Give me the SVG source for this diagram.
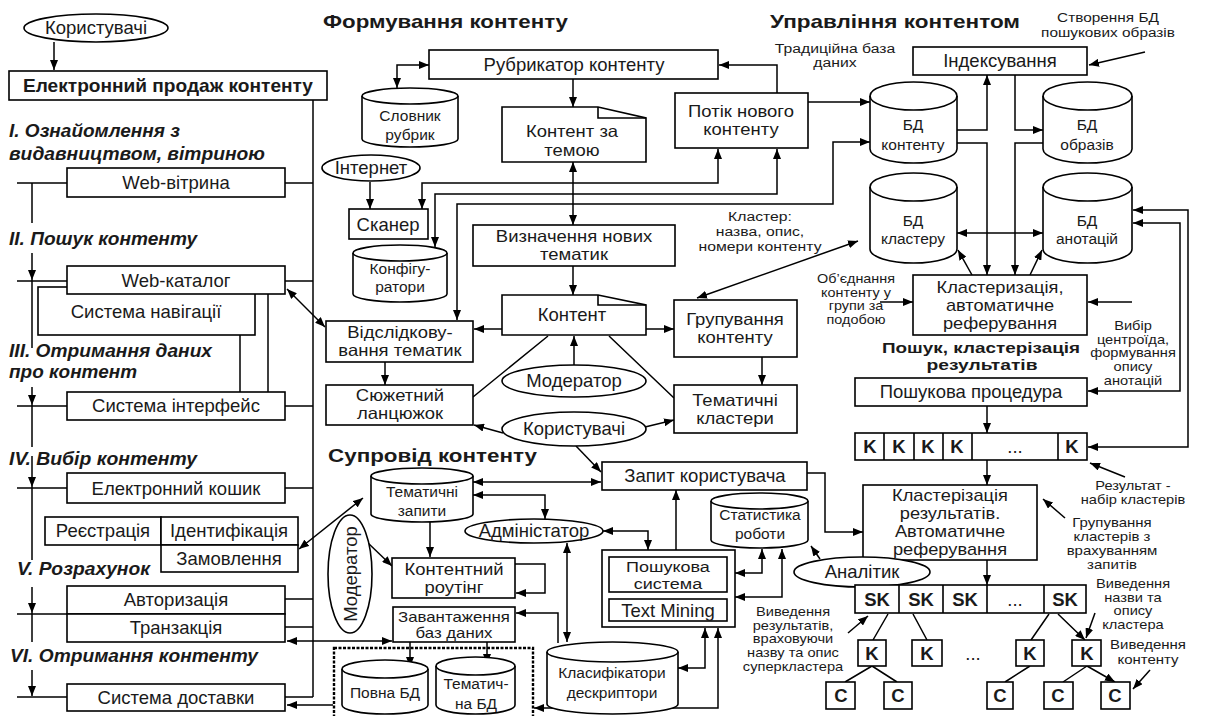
<svg xmlns="http://www.w3.org/2000/svg" width="1205" height="716" viewBox="0 0 1205 716">
<defs>
<marker id="ah" viewBox="0 0 10 10" refX="10" refY="5" markerWidth="10" markerHeight="8" markerUnits="userSpaceOnUse" orient="auto-start-reverse" preserveAspectRatio="none"><path d="M0,0 L10,5 L0,10 Z" fill="#000"/></marker>
</defs>
<style>
.n rect,.n path,.n ellipse{fill:#fff;stroke:#000;stroke-width:1.6}
.n path.f{fill:none}
.c path{fill:none;stroke:#000;stroke-width:1.5}
.e{marker-end:url(#ah)}
.s{marker-start:url(#ah)}
text{font-family:"Liberation Sans",Arial,sans-serif;fill:#1a1a1a}
.t{font-size:18.5px;text-anchor:middle}
.t2{font-size:16.5px;text-anchor:middle}
.t3{font-size:16px;text-anchor:middle}
.sm{font-size:12.3px;text-anchor:middle}
.cy{font-size:15.5px;text-anchor:middle}
.b{font-weight:bold}
.h{font-size:19px;font-weight:bold}
.h2{font-size:15px;font-weight:bold;text-anchor:middle}
.sec{font-size:18px;font-weight:bold;font-style:italic}
</style>
<rect width="1205" height="716" fill="#fff"/>

<!-- Titles -->
<g id="titles">
<text class="h" x="323" y="28" textLength="245" lengthAdjust="spacingAndGlyphs">Формування контенту</text>
<text class="h" x="770" y="28" textLength="250" lengthAdjust="spacingAndGlyphs">Управління контентом</text>
<text class="h" x="328" y="462" textLength="209" lengthAdjust="spacingAndGlyphs">Супровід контенту</text>
<text class="h2" x="981" y="353" textLength="198" lengthAdjust="spacingAndGlyphs">Пошук, кластерізація</text>
<text class="h2" x="982" y="370" textLength="111" lengthAdjust="spacingAndGlyphs">результатів</text>
<text class="sec" x="9" y="137" textLength="171" lengthAdjust="spacingAndGlyphs">I. Ознайомлення з</text>
<text class="sec" x="9" y="160" textLength="256" lengthAdjust="spacingAndGlyphs">видавництвом, вітриною</text>
<text class="sec" x="9" y="245" textLength="188" lengthAdjust="spacingAndGlyphs">II. Пошук контенту</text>
<text class="sec" x="9" y="357" textLength="203" lengthAdjust="spacingAndGlyphs">III. Отримання даних</text>
<text class="sec" x="9" y="378" textLength="128" lengthAdjust="spacingAndGlyphs">про контент</text>
<text class="sec" x="9" y="465" textLength="188" lengthAdjust="spacingAndGlyphs">IV. Вибір контенту</text>
<text class="sec" x="17" y="575" textLength="133" lengthAdjust="spacingAndGlyphs">V. Розрахунок</text>
<text class="sec" x="10" y="662" textLength="248" lengthAdjust="spacingAndGlyphs">VI. Отримання контенту</text>
</g>

<!-- Connectors -->
<g id="connectors" class="c">
<path class="e" d="M54,42 V70"/>
<path d="M313,100 V697"/>
<path d="M17,183 H67 M285,183 H313 M32,183 V223"/>
<path class="e" d="M32,253 V280"/>
<path d="M32,280 V348 M17,281 H67 M285,281 H313"/>
<path class="e" d="M32,387 V405"/>
<path d="M32,405 V447 M17,406 H67 M285,406 H313"/>
<path class="e" d="M32,456 V487"/>
<path d="M32,487 V560 M17,488 H67 M285,488 H313"/>
<path class="e" d="M32,587 V613"/>
<path d="M32,613 V642 M17,614 H67 M285,599 H313 M285,627 H313"/>
<path class="e" d="M32,670 V696"/>
<path d="M17,697 H67 M285,697 H313"/>
<path d="M240,335 V392 M268,294 V392"/>
<path class="s e" d="M287,289 L325,327"/>
<path class="s e" d="M299,549 L363,498"/>
<path class="e" d="M343,519 L392,566"/>
<path class="s e" d="M287,641 H392"/>
<path class="e" d="M333,705 H287"/>

<path class="s e" d="M429,65 H397 V88"/>
<path class="e" d="M573,79 V107"/>
<path class="e" d="M777,93 V65 H719"/>
<path class="e" d="M808,102 H870"/>
<path class="e" d="M370,182 V209"/>
<path class="s e" d="M422,209 V183 H718 V149"/>
<path class="s e" d="M435,247 V194 H777 V149"/>
<path class="s e" d="M870,142 H833 V204 H457 V320"/>
<path class="s e" d="M573,162 V225"/>
<path class="e" d="M573,266 V295"/>
<path class="e" d="M502,329 H474"/>
<path class="e" d="M646,329 H674"/>
<path class="e" d="M762,357 V385"/>
<path d="M548,336 L473,397 M609,336 L674,398"/>
<path class="e" d="M574,365 V336"/>
<path class="e" d="M385,362 V385"/>
<path class="e" d="M503,433 L474,425"/>
<path class="e" d="M645,427 L674,420"/>
<path class="e" d="M576,446 L601,472"/>
<path class="s e" d="M858,241 L697,298"/>

<path class="e" d="M1145,52 L1089,65"/>
<path class="e" d="M957,130 H987 V75"/>
<path class="e" d="M1015,75 V130 H1043"/>
<path class="e" d="M957,143 H987 V275"/>
<path class="e" d="M1043,143 H1015 V275"/>
<path class="s e" d="M957,233 H1043"/>
<path class="e" d="M972,275 L958,250"/>
<path class="e" d="M1030,275 L1042,250"/>
<path class="e" d="M1132,302 H1088"/>
<path class="e" d="M880,302 H913"/>
<path class="s e" d="M1133,223 H1180 V391 H1088"/>
<path class="s e" d="M1133,210 H1188 V447 H1088"/>
<path class="e" d="M987,406 V433"/>
<path class="e" d="M987,460 V485"/>
<path class="e" d="M1125,477 L1090,463"/>
<path class="e" d="M1065,518 L1043,499"/>
<path class="e" d="M987,560 V585"/>
<path class="e" d="M807,473 H825 V532 H863"/>
<path class="e" d="M820,559 L811,546"/>
<path class="e" d="M848,633 L868,616"/>
<path class="e" d="M1095,613 L1086,638"/>
<path class="e" d="M888,614 L873,640 M913,614 L927,640 M1049,614 L1031,640 M1058,614 L1085,640"/>
<path class="e" d="M872,666 L845,682 M872,666 L897,682 M1030,666 L1005,682 M1087,666 L1063,682 M1087,666 L1115,682"/>
<path class="e" d="M1150,670 L1133,689"/>

<path class="s e" d="M473,482 H601"/>
<path class="s e" d="M473,495 H545 V519"/>
<path class="s e" d="M603,531 H648 V550"/>
<path class="e" d="M430,522 V557"/>
<path class="e" d="M515,564 H545 V593 H516"/>
<path class="e" d="M558,643 V613 H516"/>
<path class="s e" d="M567,543 V642"/>
<path class="e" d="M410,642 V667"/>
<path class="e" d="M487,642 V664"/>
<path class="e" d="M676,550 V490"/>
<path class="s e" d="M735,573 H762 V549"/>
<path class="s e" d="M735,597 H782 V549"/>
<path class="s e" d="M678,668 H705 V628"/>
<path class="s e" d="M534,708 H718 V628"/>
</g>

<!-- Labels -->
<g id="labels">
<g transform="matrix(1.28 0 0 1 835 0)"><text class="sm" x="0" y="53">Традиційна база</text><text class="sm" x="0" y="67">даних</text></g>
<g transform="matrix(1.25 0 0 1 1108 0)"><text class="sm" x="0" y="22">Створення БД</text><text class="sm" x="0" y="37">пошукових образів</text></g>
<g transform="matrix(1.28 0 0 1 760 0)"><text class="sm" x="0" y="221">Кластер:</text><text class="sm" x="0" y="236">назва, опис,</text><text class="sm" x="0" y="251">номери контенту</text></g>
<g transform="matrix(1.2 0 0 1 856 0)"><text class="sm" x="0" y="283.5" style="font-size:12px">Об’єднання</text><text class="sm" x="0" y="297" style="font-size:12px">контенту  у</text><text class="sm" x="0" y="310.5" style="font-size:12px">групи за</text><text class="sm" x="0" y="324" style="font-size:12px">подобою</text></g>
<g transform="matrix(1.22 0 0 1 1133 0)"><text class="sm" x="0" y="330" style="font-size:12px">Вибір</text><text class="sm" x="0" y="343.8" style="font-size:12px">центроїда,</text><text class="sm" x="0" y="357.5" style="font-size:12px">формування</text><text class="sm" x="0" y="371.3" style="font-size:12px">опису</text><text class="sm" x="0" y="385" style="font-size:12px">анотацій</text></g>
<g transform="matrix(1.22 0 0 1 1133 0)"><text class="sm" x="0" y="490" style="font-size:12px">Результат -</text><text class="sm" x="0" y="504" style="font-size:12px">набір кластерів</text></g>
<g transform="matrix(1.22 0 0 1 1112 0)"><text class="sm" x="0" y="527">Групування</text><text class="sm" x="0" y="541">кластерів з</text><text class="sm" x="0" y="555">врахуванням</text><text class="sm" x="0" y="569">запитів</text></g>
<g transform="matrix(1.22 0 0 1 1133 0)"><text class="sm" x="0" y="588" style="font-size:12px">Виведення</text><text class="sm" x="0" y="601.7" style="font-size:12px">назви та</text><text class="sm" x="0" y="615.3" style="font-size:12px">опису</text><text class="sm" x="0" y="629" style="font-size:12px">кластера</text></g>
<g transform="matrix(1.22 0 0 1 1148 0)"><text class="sm" x="0" y="649">Виведення</text><text class="sm" x="0" y="664">контенту</text></g>
<g transform="matrix(1.22 0 0 1 793 0)"><text class="sm" x="0" y="616" style="font-size:12px">Виведення</text><text class="sm" x="0" y="629.8" style="font-size:12px">результатів,</text><text class="sm" x="0" y="643.5" style="font-size:12px">враховуючи</text><text class="sm" x="0" y="657.3" style="font-size:12px">назву та опис</text><text class="sm" x="0" y="671" style="font-size:12px">суперкластера</text></g>
</g>

<!-- Left column nodes -->
<g id="users-top" class="n"><ellipse cx="96" cy="28" rx="72" ry="14"/><text class="t" x="96" y="34">Користувачі</text></g>
<g id="e-sale" class="n"><rect x="9" y="71" width="318" height="29"/><text class="t b" x="168" y="92" textLength="290" lengthAdjust="spacingAndGlyphs">Електронний продаж контенту</text></g>
<g id="web-vitryna" class="n"><rect x="67" y="168" width="218" height="29"/><text class="t" x="176" y="189">Web-вітрина</text></g>
<g id="nav" class="n"><rect x="38" y="287" width="217" height="48"/><text class="t" x="146" y="318">Система навігації</text></g>
<g id="web-katalog" class="n"><rect x="67" y="266" width="218" height="28"/><text class="t" x="176" y="287">Web-каталог</text></g>
<g id="interface" class="n"><rect x="67" y="392" width="218" height="28"/><text class="t" x="176" y="412">Система інтерфейс</text></g>
<g id="koshyk" class="n"><rect x="67" y="473" width="218" height="30"/><text class="t" x="176" y="495">Електронний кошик</text></g>
<g id="reg" class="n"><rect x="45" y="517" width="116" height="28"/><text class="t" x="103" y="537">Реєстрація</text></g>
<g id="ident" class="n"><rect x="161" y="517" width="137" height="28"/><text class="t" x="229" y="537">Ідентифікація</text></g>
<g id="order" class="n"><rect x="161" y="545" width="137" height="27"/><text class="t" x="229" y="565">Замовлення</text></g>
<g id="auth" class="n"><rect x="67" y="586" width="218" height="28"/><text class="t" x="176" y="606">Авторизація</text></g>
<g id="trans" class="n"><rect x="67" y="614" width="218" height="28"/><text class="t" x="176" y="634">Транзакція</text></g>
<g id="delivery" class="n"><rect x="67" y="684" width="218" height="27"/><text class="t" x="176" y="704">Система доставки</text></g>

<!-- Forming content -->
<g id="rubrykator" class="n"><rect x="429" y="50" width="289" height="29"/><text class="t" x="574" y="71">Рубрикатор контенту</text></g>
<g id="slovnyk" class="n"><path d="M362,96 A48,8 0 0 1 458,96 V139 A48,8 0 0 1 362,139 Z"/><path class="f" d="M362,96 A48,8 0 0 0 458,96"/><text class="cy" x="410" y="121">Словник</text><text class="cy" x="410" y="140">рубрик</text></g>
<g id="kontent-tema" class="n"><path d="M502,107 H598 L646,118 V162 H502 Z"/><path class="f" d="M598,107 V118 H646"/><g transform="matrix(1.12 0 0 1 572 0)"><text class="t2" x="0" y="137">Контент за</text><text class="t2" x="0" y="156">темою</text></g></g>
<g id="potik" class="n"><rect x="675" y="93" width="133" height="55"/><g transform="matrix(1.12 0 0 1 741 0)"><text class="t2" x="0" y="117">Потік нового</text><text class="t2" x="0" y="135.5">контенту</text></g></g>
<g id="internet" class="n"><ellipse cx="371" cy="168" rx="49" ry="13"/><text class="t" x="371" y="174">Інтернет</text></g>
<g id="skaner" class="n"><rect x="349" y="209" width="79" height="30"/><text class="t" x="388" y="231">Сканер</text></g>
<g id="konfig" class="n"><path d="M353,253 A47,8 0 0 1 447,253 V294 A47,8 0 0 1 353,294 Z"/><path class="f" d="M353,253 A47,8 0 0 0 447,253"/><text class="cy" x="400" y="274">Конфігу-</text><text class="cy" x="400" y="292">ратори</text></g>
<g id="vyznachennia" class="n"><rect x="473" y="225" width="202" height="41"/><g transform="matrix(1.12 0 0 1 574 0)"><text class="t2" x="0" y="242">Визначення нових</text><text class="t2" x="0" y="260.5">тематик</text></g></g>
<g id="kontent" class="n"><path d="M502,295 H598 L646,305 V335 H502 Z"/><path class="f" d="M598,295 V305 H646"/><text class="t" x="572" y="321">Контент</text></g>
<g id="vidslidk" class="n"><rect x="326" y="321" width="147" height="41"/><g transform="matrix(1.12 0 0 1 400 0)"><text class="t2" x="0" y="338">Відслідкову-</text><text class="t2" x="0" y="356.5">вання тематик</text></g></g>
<g id="siuzhet" class="n"><rect x="326" y="385" width="147" height="40"/><g transform="matrix(1.12 0 0 1 400 0)"><text class="t2" x="0" y="401">Сюжетний</text><text class="t2" x="0" y="419.5">ланцюжок</text></g></g>
<g id="grupuvannia" class="n"><rect x="674" y="300" width="123" height="57"/><g transform="matrix(1.12 0 0 1 735 0)"><text class="t2" x="0" y="325">Групування</text><text class="t2" x="0" y="343.5">контенту</text></g></g>
<g id="tem-klastery" class="n"><rect x="674" y="385" width="123" height="48"/><g transform="matrix(1.12 0 0 1 735 0)"><text class="t2" x="0" y="406">Тематичні</text><text class="t2" x="0" y="424.5">кластери</text></g></g>
<g id="moderator-mid" class="n"><ellipse cx="574" cy="381" rx="72" ry="16"/><text class="t" x="574" y="387">Модератор</text></g>
<g id="users-mid" class="n"><ellipse cx="574" cy="429" rx="72" ry="17"/><text class="t" x="574" y="435">Користувачі</text></g>

<!-- Content management -->
<g id="indeks" class="n"><rect x="913" y="47" width="174" height="28"/><text class="t" x="1000" y="67">Індексування</text></g>
<g id="bd-kontent" class="n"><path d="M870,96 A43.5,14 0 0 1 957,96 V149 A43.5,14 0 0 1 870,149 Z"/><path class="f" d="M870,96 A43.5,14 0 0 0 957,96"/><text class="cy" x="913" y="130">БД</text><text class="cy" x="913" y="150">контенту</text></g>
<g id="bd-obraz" class="n"><path d="M1043,96 A44.5,14 0 0 1 1132,96 V149 A44.5,14 0 0 1 1043,149 Z"/><path class="f" d="M1043,96 A44.5,14 0 0 0 1132,96"/><text class="cy" x="1087" y="130">БД</text><text class="cy" x="1087" y="150">образів</text></g>
<g id="bd-klaster" class="n"><path d="M870,187 A43.5,14 0 0 1 957,187 V249 A43.5,14 0 0 1 870,249 Z"/><path class="f" d="M870,187 A43.5,14 0 0 0 957,187"/><text class="cy" x="913" y="226">БД</text><text class="cy" x="913" y="244">кластеру</text></g>
<g id="bd-anot" class="n"><path d="M1043,187 A44.5,14 0 0 1 1132,187 V249 A44.5,14 0 0 1 1043,249 Z"/><path class="f" d="M1043,187 A44.5,14 0 0 0 1132,187"/><text class="cy" x="1087" y="226">БД</text><text class="cy" x="1087" y="244">анотацій</text></g>
<g id="klasteryz" class="n"><rect x="913" y="275" width="174" height="60"/><g transform="matrix(1.14 0 0 1 1000 0)"><text class="t3" x="0" y="293">Кластеризація,</text><text class="t3" x="0" y="311">автоматичне</text><text class="t3" x="0" y="329">реферування</text></g></g>

<!-- Search, clustering -->
<g id="poshuk-proc" class="n"><rect x="855" y="378" width="232" height="28"/><text class="t" x="971" y="398">Пошукова процедура</text></g>
<g id="k-row" class="n"><rect x="855" y="433" width="232" height="27"/><path class="f" d="M884,433 V460 M914,433 V460 M943,433 V460 M972,433 V460 M1058,433 V460"/>
<text class="t b" x="870" y="453">K</text><text class="t b" x="899" y="453">K</text><text class="t b" x="928" y="453">K</text><text class="t b" x="957" y="453">K</text><text class="t" x="1015" y="453">...</text><text class="t b" x="1072" y="453">K</text></g>
<g id="klaster-rez" class="n"><rect x="863" y="485" width="174" height="75"/><g transform="matrix(1.14 0 0 1 950 0)"><text class="t3" x="0" y="501.5">Кластерізація</text><text class="t3" x="0" y="519.5">результатів.</text><text class="t3" x="0" y="537.5">Автоматичне</text><text class="t3" x="0" y="555.5">реферування</text></g></g>
<g id="analityk" class="n"><ellipse cx="862" cy="572" rx="68" ry="15"/><text class="t" x="862" y="578">Аналітик</text></g>
<g id="sk-row" class="n"><rect x="855" y="585" width="231" height="28"/><path class="f" d="M899,585 V613 M943,585 V613 M987,585 V613 M1044,585 V613"/>
<text class="t b" x="877" y="606">SK</text><text class="t b" x="921" y="606">SK</text><text class="t b" x="965" y="606">SK</text><text class="t" x="1015" y="606">...</text><text class="t b" x="1065" y="606">SK</text></g>
<g id="k1" class="n"><rect x="858" y="640" width="28" height="26"/><text class="t b" x="872" y="660">K</text></g>
<g id="k2" class="n"><rect x="912" y="640" width="30" height="26"/><text class="t b" x="927" y="660">K</text></g>
<text class="t" x="973" y="660">...</text>
<g id="k3" class="n"><rect x="1016" y="640" width="28" height="26"/><text class="t b" x="1030" y="660">K</text></g>
<g id="k4" class="n"><rect x="1072" y="640" width="29" height="26"/><text class="t b" x="1087" y="660">K</text></g>
<g id="c1" class="n"><rect x="826" y="682" width="29" height="27"/><text class="t b" x="841" y="702">C</text></g>
<g id="c2" class="n"><rect x="884" y="682" width="28" height="27"/><text class="t b" x="898" y="702">C</text></g>
<g id="c3" class="n"><rect x="987" y="682" width="26" height="27"/><text class="t b" x="1000" y="702">C</text></g>
<g id="c4" class="n"><rect x="1044" y="682" width="29" height="27"/><text class="t b" x="1058" y="702">C</text></g>
<g id="c5" class="n"><rect x="1101" y="682" width="29" height="27"/><text class="t b" x="1115" y="702">C</text></g>

<!-- Support -->
<g id="zapyt" class="n"><rect x="602" y="462" width="205" height="28"/><text class="t" x="705" y="482">Запит користувача</text></g>
<g id="tem-zapyty" class="n"><path d="M371,476 A51,8 0 0 1 473,476 V514 A51,8 0 0 1 371,514 Z"/><path class="f" d="M371,476 A51,8 0 0 0 473,476"/><text class="cy" x="422" y="497">Тематичні</text><text class="cy" x="422" y="516">запити</text></g>
<g id="admin" class="n"><ellipse cx="534" cy="531" rx="69" ry="12"/><text class="t" x="534" y="537">Адміністатор</text></g>
<g id="moderator-v" class="n"><ellipse cx="350" cy="574" rx="22" ry="59"/><text class="t" x="0" y="0" transform="translate(357,574) rotate(-90)">Модератор</text></g>
<g id="routing" class="n"><rect x="392" y="558" width="123" height="40"/><g transform="matrix(1.12 0 0 1 454 0)"><text class="t2" x="0" y="575">Контентний</text><text class="t2" x="0" y="593.5">роутінг</text></g></g>
<g id="zavantazh" class="n"><rect x="393" y="607" width="122" height="35"/><g transform="matrix(1.2 0 0 1 454 0)"><text class="cy" x="0" y="622" style="font-size:14px">Завантаження</text><text class="cy" x="0" y="638" style="font-size:14px">баз даних</text></g></g>
<g id="statystyka" class="n"><path d="M711,501 A48.5,8 0 0 1 808,501 V540 A48.5,8 0 0 1 711,540 Z"/><path class="f" d="M711,501 A48.5,8 0 0 0 808,501"/><text class="cy" x="760" y="520">Статистика</text><text class="cy" x="760" y="539">роботи</text></g>
<g id="poshuk-system" class="n"><rect x="602" y="550" width="133" height="77"/><rect x="609" y="557" width="118" height="35"/><rect x="609" y="599" width="118" height="22"/><g transform="matrix(1.2 0 0 1 668 0)"><text class="cy" x="0" y="572" style="font-size:15px">Пошукова</text><text class="cy" x="0" y="589" style="font-size:15px">система</text></g><text class="t" x="668" y="617">Text Mining</text></g>
<g id="klasyfikatory" class="n"><path d="M547,652 A65.5,10 0 0 1 678,652 V704 A65.5,10 0 0 1 547,704 Z"/><path class="f" d="M547,652 A65.5,10 0 0 0 678,652"/><text class="cy" x="612" y="678">Класифікатори</text><text class="cy" x="612" y="698">дескриптори</text></g>
<g id="db-frame" class="n"><rect x="334" y="648" width="199" height="72" style="fill:none;stroke-dasharray:3 1.5;stroke-width:2.4"/></g>
<g id="povna-bd" class="n"><path d="M342,669 A43,9 0 0 1 428,669 V705 A43,9 0 0 1 342,705 Z"/><path class="f" d="M342,669 A43,9 0 0 0 428,669"/><text class="cy" x="385" y="698">Повна БД</text></g>
<g id="tem-bd" class="n"><path d="M436,666 A39.5,9 0 0 1 515,666 V705 A39.5,9 0 0 1 436,705 Z"/><path class="f" d="M436,666 A39.5,9 0 0 0 515,666"/><text class="cy" x="476" y="689">Тематич-</text><text class="cy" x="476" y="709">на БД</text></g>
</svg>
